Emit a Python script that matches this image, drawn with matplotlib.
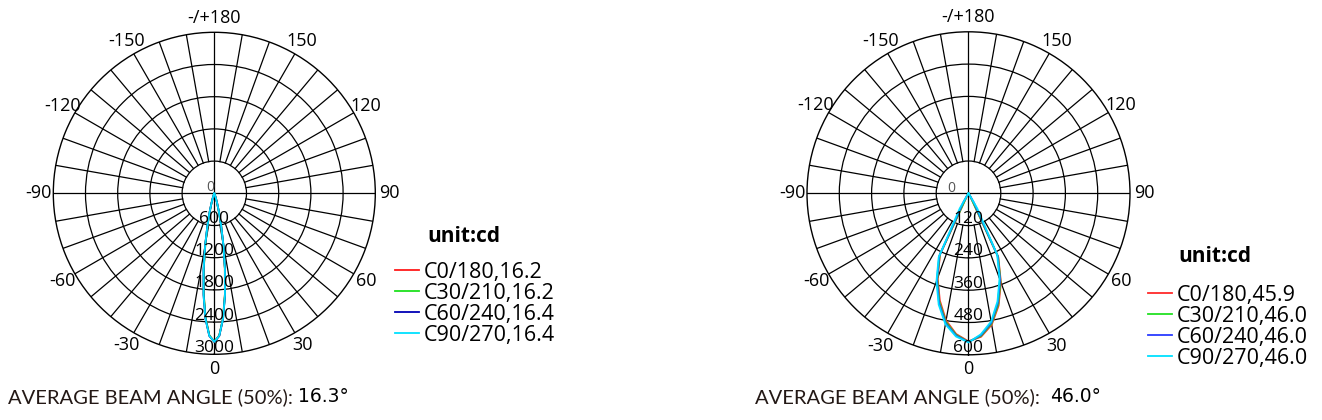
import numpy as np
import matplotlib
matplotlib.use("Agg")
import matplotlib.pyplot as plt

plt.rcParams["font.family"] = ["Open Sans", "DejaVu Sans"]

# left diagram: narrow beam, gamma every 2 degrees (negative side = C+180 plane)
NARROW_GAMMA = list(range(-24, 25, 2))
NARROW_C0 = [5, 15, 40, 90, 185, 345, 600, 960, 1410, 1890, 2330, 2650, 2765,
             2650, 2330, 1890, 1410, 960, 600, 345, 185, 90, 40, 15, 5]
NARROW_C30 = [5, 14, 38, 88, 182, 340, 595, 955, 1405, 1885, 2325, 2648, 2765,
              2652, 2335, 1895, 1415, 965, 605, 350, 188, 92, 41, 15, 5]
NARROW_C60 = [6, 17, 44, 96, 195, 360, 620, 985, 1440, 1915, 2350, 2660, 2768,
              2660, 2345, 1910, 1430, 975, 612, 355, 192, 94, 42, 16, 5]
NARROW_C90 = [6, 16, 43, 95, 193, 358, 618, 982, 1436, 1912, 2348, 2658, 2766,
              2655, 2340, 1905, 1425, 970, 608, 352, 190, 93, 42, 16, 5]
NARROW_RINGS = [600, 1200, 1800, 2400, 3000]
NARROW_LABELS = ["C0/180,16.2", "C30/210,16.2", "C60/240,16.4", "C90/270,16.4"]
NARROW_BEAM = "16.3°"

# right diagram: wide beam, gamma every 5 degrees
WIDE_GAMMA = list(range(-40, 41, 5))
WIDE_C0 = [0, 2, 10, 250, 335, 412, 480, 525, 550, 535, 496, 432, 352, 262, 12, 2, 0]
WIDE_C30 = [0, 2, 12, 253, 339, 418, 485, 528, 552, 532, 492, 427, 348, 260, 14, 2, 0]
WIDE_C60 = [0, 3, 40, 257, 343, 423, 490, 531, 553, 529, 488, 421, 343, 256, 40, 3, 0]
WIDE_C90 = [0, 3, 65, 262, 348, 428, 494, 534, 554, 526, 484, 416, 337, 252, 65, 3, 0]
WIDE_RINGS = [120, 240, 360, 480, 600]
WIDE_LABELS = ["C0/180,45.9", "C30/210,46.0", "C60/240,46.0", "C90/270,46.0"]
WIDE_BEAM = "46.0°"

ANGLE_TICKS = [0, 30, 60, 90, 120, 150, 180, -150, -120, -90, -60, -30]
ANGLE_LABELS = ["0", "30", "60", "90", "120", "150", "-/+180",
                "-150", "-120", "-90", "-60", "-30"]

NARROW_COLORS = ["#ff1a1a", "#1ee01e", "#0000b4", "#00e1ff"]
WIDE_COLORS = ["#ff2a2a", "#22e022", "#2a3cff", "#00e1ff"]

W, H = 1322, 420


def polar_panel(fig, cx, cy, radius, gamma, curves, colors, labels, rings,
                legend_xy, unit_xy, zero_off):
    rect = [(cx - radius) / W, 1 - (cy + radius) / H, 2 * radius / W, 2 * radius / H]
    ax = fig.add_axes(rect, projection="polar")
    ax.set_theta_zero_location("S")
    ax.set_theta_direction(1)
    rmax = rings[-1]
    ax.set_ylim(0, rmax)
    ax.set_xticks([])
    ax.set_yticks(rings[:-1])
    ax.set_yticklabels([])
    ax.yaxis.grid(True, color="black", linewidth=0.9)
    ax.spines["polar"].set_linewidth(1.0)

    # radial spokes, only the main axes cross the centre
    for a in range(0, 360, 10):
        r0 = 0 if a % 90 == 0 else rings[0]
        ax.plot([np.deg2rad(a)] * 2, [r0, rmax], color="black", lw=0.9, zorder=1)

    for a, lbl in zip(ANGLE_TICKS, ANGLE_LABELS):
        ax.text(np.deg2rad(a), rmax * 1.09, lbl, ha="center", va="center",
                fontsize=13, clip_on=False)
    for ring in rings:
        ax.text(0, ring - rmax * 0.04, str(ring), ha="center", va="center",
                fontsize=12.5, zorder=5)
    ax.annotate("0", xy=(0, 0), xytext=zero_off, textcoords="offset pixels",
                ha="center", va="center", fontsize=10, color="#555555")

    th = np.deg2rad(gamma)
    handles = []
    for vals, c in zip(curves, colors):
        (ln,) = ax.plot(th, vals, color=c, lw=1.3, zorder=3)
        handles.append(ln)

    fig.legend(handles, labels, loc="upper left",
               bbox_to_anchor=(legend_xy[0] / W, 1 - legend_xy[1] / H),
               frameon=False, fontsize=15.5, handlelength=1.1, handletextpad=0.25,
               labelspacing=0.0, borderpad=0, borderaxespad=0)
    fig.text(unit_xy[0] / W, 1 - unit_xy[1] / H, "unit:cd", fontsize=15,
             fontweight="bold", va="center", ha="left")
    return ax


fig = plt.figure(figsize=(W / 100, H / 100), dpi=100)

polar_panel(fig, 214.3, 193.3, 161, NARROW_GAMMA,
            [NARROW_C0, NARROW_C30, NARROW_C60, NARROW_C90],
            NARROW_COLORS, NARROW_LABELS, NARROW_RINGS,
            (395, 262), (427, 236), (-4, 6))
polar_panel(fig, 968.5, 193.3, 161.5, WIDE_GAMMA,
            [WIDE_C0, WIDE_C30, WIDE_C60, WIDE_C90],
            WIDE_COLORS, WIDE_LABELS, WIDE_RINGS,
            (1148, 285), (1178, 256), (-17, 5))

for x0, val, gap in [(8, NARROW_BEAM, 5), (755, WIDE_BEAM, 10)]:
    t = fig.text(x0 / W, 1 - 397 / H, "AVERAGE BEAM ANGLE (50%):", fontsize=14.5,
                 family=["Lato", "DejaVu Sans"], color="#231815", va="center")
    fig.add_artist(plt.Annotation(val, xy=(1, 0.5), xycoords=t, xytext=(gap, 0),
                                  textcoords="offset pixels", va="center",
                                  fontsize=13.5, color="black",
                                  family="DejaVu Sans"))

fig.savefig("out.png", dpi=100)
